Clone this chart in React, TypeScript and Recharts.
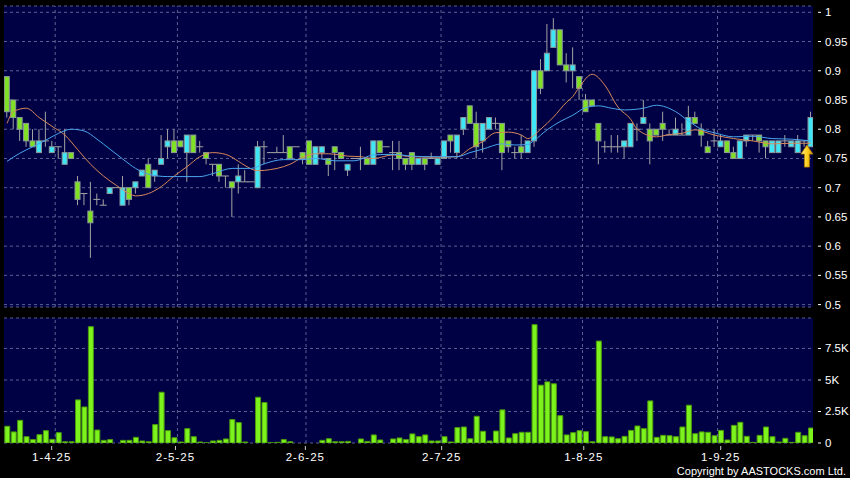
import React from 'react';
import {ComposedChart, Bar, Line, XAxis, YAxis, CartesianGrid, ReferenceLine, ReferenceDot} from 'recharts';

// daily candles, oldest first
const opens = [0.89, 0.85, 0.82, 0.81, 0.78, 0.76, 0.78, 0.76, 0.77, 0.74, 0.76, 0.71, 0.69, 0.66, 0.68, 0.67, 0.69, 0.70, 0.67, 0.70, 0.70, 0.72, 0.74, 0.72, 0.74, 0.77, 0.78, 0.78, 0.76, 0.79, 0.77, 0.76, 0.74, 0.74, 0.72, 0.71, 0.71, 0.71, 0.71, 0.70, 0.77, 0.76, 0.76, 0.76, 0.77, 0.77, 0.76, 0.78, 0.74, 0.76, 0.75, 0.77, 0.76, 0.73, 0.75, 0.75, 0.75, 0.74, 0.78, 0.77, 0.76, 0.76, 0.75, 0.76, 0.74, 0.75, 0.75, 0.74, 0.75, 0.79, 0.76, 0.80, 0.84, 0.81, 0.78, 0.80, 0.81, 0.81, 0.78, 0.76, 0.77, 0.76, 0.78, 0.90, 0.90, 0.94, 0.97, 0.91, 0.90, 0.89, 0.85, 0.85, 0.81, 0.77, 0.77, 0.77, 0.77, 0.77, 0.80, 0.81, 0.80, 0.80, 0.81, 0.79, 0.79, 0.79, 0.79, 0.82, 0.80, 0.77, 0.78, 0.77, 0.78, 0.76, 0.75, 0.78, 0.79, 0.79, 0.78, 0.76, 0.76, 0.78, 0.77, 0.76, 0.78, 0.77];
const highs = [0.89, 0.85, 0.82, 0.81, 0.80, 0.80, 0.83, 0.78, 0.77, 0.80, 0.76, 0.72, 0.69, 0.71, 0.69, 0.68, 0.70, 0.70, 0.72, 0.70, 0.71, 0.73, 0.75, 0.73, 0.79, 0.80, 0.80, 0.78, 0.79, 0.79, 0.78, 0.76, 0.74, 0.74, 0.72, 0.71, 0.74, 0.73, 0.71, 0.78, 0.78, 0.76, 0.77, 0.79, 0.77, 0.77, 0.76, 0.78, 0.77, 0.77, 0.75, 0.77, 0.76, 0.74, 0.75, 0.77, 0.75, 0.78, 0.78, 0.77, 0.78, 0.78, 0.75, 0.76, 0.75, 0.75, 0.76, 0.75, 0.78, 0.79, 0.79, 0.82, 0.84, 0.83, 0.81, 0.82, 0.82, 0.81, 0.78, 0.77, 0.79, 0.78, 0.90, 0.92, 0.98, 0.99, 0.97, 0.93, 0.94, 0.89, 0.86, 0.85, 0.81, 0.78, 0.79, 0.79, 0.78, 0.81, 0.81, 0.85, 0.81, 0.80, 0.83, 0.80, 0.82, 0.81, 0.84, 0.83, 0.81, 0.78, 0.80, 0.79, 0.78, 0.77, 0.78, 0.79, 0.79, 0.79, 0.78, 0.78, 0.78, 0.79, 0.78, 0.79, 0.78, 0.83];
const lows = [0.82, 0.80, 0.78, 0.77, 0.77, 0.76, 0.77, 0.76, 0.75, 0.74, 0.75, 0.67, 0.67, 0.58, 0.67, 0.67, 0.69, 0.70, 0.67, 0.67, 0.69, 0.72, 0.70, 0.71, 0.74, 0.75, 0.76, 0.77, 0.71, 0.76, 0.76, 0.74, 0.72, 0.71, 0.70, 0.65, 0.69, 0.71, 0.71, 0.70, 0.74, 0.76, 0.76, 0.76, 0.75, 0.77, 0.74, 0.74, 0.74, 0.75, 0.72, 0.73, 0.75, 0.72, 0.75, 0.73, 0.74, 0.74, 0.76, 0.77, 0.73, 0.73, 0.73, 0.73, 0.74, 0.73, 0.75, 0.74, 0.75, 0.76, 0.75, 0.79, 0.81, 0.75, 0.76, 0.80, 0.80, 0.73, 0.76, 0.75, 0.75, 0.76, 0.77, 0.86, 0.90, 0.94, 0.91, 0.88, 0.87, 0.85, 0.83, 0.84, 0.74, 0.76, 0.76, 0.76, 0.75, 0.77, 0.78, 0.81, 0.74, 0.79, 0.78, 0.79, 0.79, 0.79, 0.79, 0.81, 0.77, 0.76, 0.77, 0.77, 0.76, 0.75, 0.75, 0.77, 0.78, 0.76, 0.75, 0.76, 0.76, 0.77, 0.77, 0.76, 0.77, 0.77];
const closes = [0.83, 0.82, 0.80, 0.78, 0.77, 0.78, 0.78, 0.77, 0.77, 0.76, 0.75, 0.68, 0.69, 0.64, 0.68, 0.67, 0.70, 0.70, 0.70, 0.68, 0.71, 0.73, 0.70, 0.73, 0.75, 0.78, 0.76, 0.77, 0.79, 0.76, 0.77, 0.75, 0.74, 0.72, 0.72, 0.70, 0.72, 0.71, 0.71, 0.77, 0.77, 0.76, 0.76, 0.76, 0.75, 0.77, 0.75, 0.74, 0.77, 0.77, 0.74, 0.76, 0.75, 0.74, 0.75, 0.75, 0.74, 0.78, 0.76, 0.77, 0.76, 0.75, 0.74, 0.74, 0.75, 0.74, 0.75, 0.75, 0.78, 0.78, 0.79, 0.82, 0.81, 0.77, 0.81, 0.82, 0.81, 0.76, 0.77, 0.76, 0.76, 0.78, 0.90, 0.87, 0.93, 0.97, 0.91, 0.90, 0.91, 0.87, 0.83, 0.84, 0.78, 0.77, 0.77, 0.77, 0.78, 0.81, 0.80, 0.82, 0.78, 0.79, 0.80, 0.79, 0.80, 0.79, 0.82, 0.81, 0.79, 0.76, 0.78, 0.78, 0.76, 0.75, 0.78, 0.79, 0.79, 0.78, 0.77, 0.78, 0.78, 0.78, 0.78, 0.78, 0.78, 0.82];
// volume in thousands
const volumes = [1.33, 0.88, 1.8, 0.5, 0.27, 0.66, 0.98, 0.29, 0.82, 0.1, 0.1, 3.42, 2.86, 9.23, 1.03, 0.21, 0.27, 0, 0.21, 0.21, 0.45, 0.16, 0.1, 1.46, 4.03, 0.98, 0.42, 0.08, 1.14, 0.5, 0.08, 0.02, 0.16, 0.21, 0.32, 1.86, 1.62, 0.08, 0, 3.63, 3.21, 0.02, 0.05, 0.27, 0.1, 0, 0, 0, 0, 0.21, 0.34, 0.1, 0.1, 0.13, 0, 0.32, 0.13, 0.64, 0.24, 0, 0.32, 0.4, 0.27, 0.72, 0.5, 0.64, 0.16, 0.16, 0.5, 0.08, 1.22, 1.27, 0.34, 2.12, 0.93, 0.16, 0.95, 2.63, 0.4, 0.74, 0.85, 0.85, 9.39, 4.59, 4.85, 4.7, 2.17, 0.64, 0.82, 0.98, 0.9, 0.1, 8.09, 0.5, 0.48, 0.34, 0.53, 1.0, 1.35, 1.14, 3.34, 0.45, 0.61, 0.58, 0.5, 1.27, 3.0, 0.74, 0.88, 0.85, 0.58, 1.0, 0.24, 1.4, 1.64, 0.53, 0.05, 0.61, 1.27, 0.5, 0.08, 0.37, 0.05, 0.85, 0.58, 1.19];
// moving averages, sampled where read: [day index, value]
const maFast = [[0, 0.81], [1, 0.83], [3, 0.836], [5, 0.82], [7, 0.805], [9, 0.79], [11, 0.765], [13, 0.74], [15, 0.72], [17, 0.704], [19, 0.69], [20, 0.686], [22, 0.69], [24, 0.702], [26, 0.72], [28, 0.736], [30, 0.753], [32, 0.76], [34, 0.757], [36, 0.745], [37, 0.738], [39, 0.729], [41, 0.731], [42, 0.733], [44, 0.74], [46, 0.752], [48, 0.758], [50, 0.758], [53, 0.754], [55, 0.753], [57, 0.75], [60, 0.756], [63, 0.753], [67, 0.752], [70, 0.753], [72, 0.767], [74, 0.779], [76, 0.794], [78, 0.795], [80, 0.79], [81, 0.784], [83, 0.80], [85, 0.821], [87, 0.846], [88, 0.856], [89, 0.872], [91, 0.894], [93, 0.875], [95, 0.838], [97, 0.817], [98, 0.80], [101, 0.787], [103, 0.791], [105, 0.793], [107, 0.799], [110, 0.79], [113, 0.784], [116, 0.78], [119, 0.775], [122, 0.776], [125, 0.776]];
const maSlow = [[0, 0.745], [2, 0.759], [4, 0.77], [6, 0.781], [8, 0.793], [10, 0.80], [12, 0.797], [14, 0.783], [16, 0.766], [18, 0.749], [20, 0.733], [22, 0.723], [25, 0.719], [30, 0.719], [32, 0.724], [35, 0.733], [38, 0.733], [40, 0.741], [43, 0.748], [46, 0.748], [48, 0.75], [51, 0.746], [54, 0.746], [57, 0.756], [60, 0.757], [63, 0.754], [66, 0.753], [70, 0.753], [72, 0.76], [74, 0.766], [77, 0.775], [79, 0.773], [81, 0.774], [82, 0.781], [84, 0.799], [86, 0.813], [88, 0.824], [90, 0.837], [92, 0.84], [94, 0.836], [96, 0.833], [99, 0.836], [101, 0.841], [104, 0.83], [106, 0.814], [108, 0.80], [110, 0.794], [113, 0.787], [116, 0.788], [119, 0.784], [122, 0.783], [125, 0.78]];

const monthLines = [7.5, 26.5, 46.5, 67.5, 89.5, 110.5];
const dateTicks = [6.95, 26.2, 46.4, 67.6, 89.7, 111];
const dateLabels = ['1-4-25', '2-5-25', '2-6-25', '2-7-25', '1-8-25', '1-9-25'];
const priceTicks = [0.5, 0.55, 0.6, 0.65, 0.7, 0.75, 0.8, 0.85, 0.9, 0.95, 1];
const volTicks = [0, 2.5, 5, 7.5];
const arrowAt = {x: 124.4, y: 0.754};

const fastMap = new Map(maFast as [number, number][]);
const slowMap = new Map(maSlow as [number, number][]);
const data = opens.map((o, i) => ({
    i,
    open: o,
    high: highs[i],
    low: lows[i],
    close: closes[i],
    vol: volumes[i],
    ma10: fastMap.has(i) ? fastMap.get(i) : null,
    ma20: slowMap.has(i) ? slowMap.get(i) : null,
}));

const NAVY = '#000045';
const GRID = '#5a6192';
const UP = '#3fe6f6';
const DOWN = '#7fe024';
const WICK = '#a3a3a3';
const FONT = '"Liberation Sans", Arial, sans-serif';
const X_DOMAIN = [-0.467, 125.35];

const Candle = (props: any) => {
    const {x, y, width, height, payload} = props;
    const {open, close, high, low} = payload;
    const cx = x + width / 2;
    const span = high - low;
    const toY = (v: number) => (span > 0 ? y + ((high - v) / span) * height : y);
    const top = toY(Math.max(open, close));
    const bot = toY(Math.min(open, close));
    const wick = <line x1={cx} x2={cx} y1={y} y2={y + height} stroke={WICK} strokeWidth={1}/>;
    if (open === close) {
        return (
            <g>
                {wick}
                <line x1={cx - 3.5} x2={cx + 3.5} y1={top} y2={top} stroke={WICK} strokeWidth={1}/>
            </g>
        );
    }
    return (
        <g>
            {wick}
            <rect x={cx - 2.5} y={top} width={5} height={bot - top}
                  fill={close > open ? UP : DOWN} stroke="#8c9a9a" strokeWidth={1}/>
        </g>
    );
};

const Arrow = (props: any) => {
    const {cx, cy} = props;
    return (
        <g>
            <defs>
                <linearGradient id="arrowFill" x1="0" y1="0" x2="1" y2="0">
                    <stop offset="0" stopColor="#fff2a0"/>
                    <stop offset="0.5" stopColor="#ffd21e"/>
                    <stop offset="1" stopColor="#d99a00"/>
                </linearGradient>
            </defs>
            <polygon
                points={`${cx},${cy - 11} ${cx + 6},${cy - 2} ${cx + 2.5},${cy - 2} ${cx + 2.5},${cy + 11} ${cx - 2.5},${cy + 11} ${cx - 2.5},${cy - 2} ${cx - 6},${cy - 2}`}
                fill="url(#arrowFill)" stroke="#b07800" strokeWidth={0.8}/>
        </g>
    );
};

const RightTick = (props: any) => {
    const {x, y, payload, fmt} = props;
    return (
        <g>
            <line x1={x + 5} x2={x + 8} y1={y} y2={y} stroke="#ffffff"/>
            <text x={x + 12} y={y + 4} fill="#ffffff" fontSize={11.5} fontFamily={FONT}>
                {fmt(payload.value)}
            </text>
        </g>
    );
};

const DateTick = (props: any) => {
    const {x, y, payload} = props;
    const idx = dateTicks.indexOf(payload.value);
    return (
        <g>
            <line x1={x} x2={x} y1={y + 3} y2={y + 7} stroke="#cccccc"/>
            <text x={x} y={y + 18} fill="#ffffff" fontSize={11.5} fontFamily={FONT}
                  textAnchor="middle" letterSpacing={1}>
                {dateLabels[idx]}
            </text>
        </g>
    );
};

const App = () => {
    return (
        <div style={{position: 'absolute', left: 0, top: 0, width: 850, height: 478, background: '#000', fontFamily: FONT}}>
            <ComposedChart width={850} height={312} data={data}
                           margin={{top: 6, right: 0, left: 4, bottom: 5}}>
                <CartesianGrid fill={NAVY} vertical={false} stroke={GRID} strokeDasharray="3 3"/>
                <XAxis dataKey="i" type="number" domain={X_DOMAIN} hide allowDataOverflow/>
                <YAxis orientation="right" width={37} domain={[0.4959, 1.0108]} ticks={priceTicks}
                       interval={0} allowDataOverflow axisLine={false} tickLine={false}
                       tickSize={0} tickMargin={0}
                       tick={<RightTick fmt={(v: number) => String(v)}/>}/>
                {monthLines.map((m) => (
                    <ReferenceLine key={m} x={m} stroke={GRID} strokeDasharray="3 3"/>
                ))}
                <Bar dataKey={(d: any) => [d.low, d.high]} barSize={6} shape={<Candle/>}
                     isAnimationActive={false}/>
                <Line dataKey="ma10" type="monotone" stroke="#d98a5a" strokeWidth={1} dot={false}
                      connectNulls isAnimationActive={false}/>
                <Line dataKey="ma20" type="monotone" stroke="#4aa6ec" strokeWidth={1} dot={false}
                      connectNulls isAnimationActive={false}/>
                <ReferenceDot x={arrowAt.x} y={arrowAt.y} r={1} shape={<Arrow/>}/>
            </ComposedChart>
            <ComposedChart width={850} height={166} data={data}
                           margin={{top: 6, right: 0, left: 4, bottom: 0}}>
                <CartesianGrid fill={NAVY} vertical={false} stroke={GRID} strokeDasharray="3 3"/>
                <XAxis dataKey="i" type="number" domain={X_DOMAIN} ticks={dateTicks} interval={0}
                       allowDataOverflow height={35} axisLine={false} tickLine={false}
                       tickSize={0} tickMargin={0} tick={<DateTick/>}/>
                <YAxis orientation="right" width={37} domain={[0, 9.92]} ticks={volTicks}
                       interval={0} allowDataOverflow axisLine={false} tickLine={false}
                       tickSize={0} tickMargin={0}
                       tick={<RightTick fmt={(v: number) => (v === 0 ? '0' : `${v}K`)}/>}/>
                {monthLines.map((m) => (
                    <ReferenceLine key={m} x={m} stroke={GRID} strokeDasharray="3 3"/>
                ))}
                <Bar dataKey="vol" barSize={5} fill="#7cf31c" stroke="#4c9a0c" strokeWidth={1}
                     isAnimationActive={false}/>
            </ComposedChart>
            <div style={{position: 'absolute', right: 4, top: 465, color: '#fff', fontSize: 11, lineHeight: '12px', whiteSpace: 'nowrap'}}>
                Copyright by AASTOCKS.com Ltd.
            </div>
        </div>
    );
};

export default App;
